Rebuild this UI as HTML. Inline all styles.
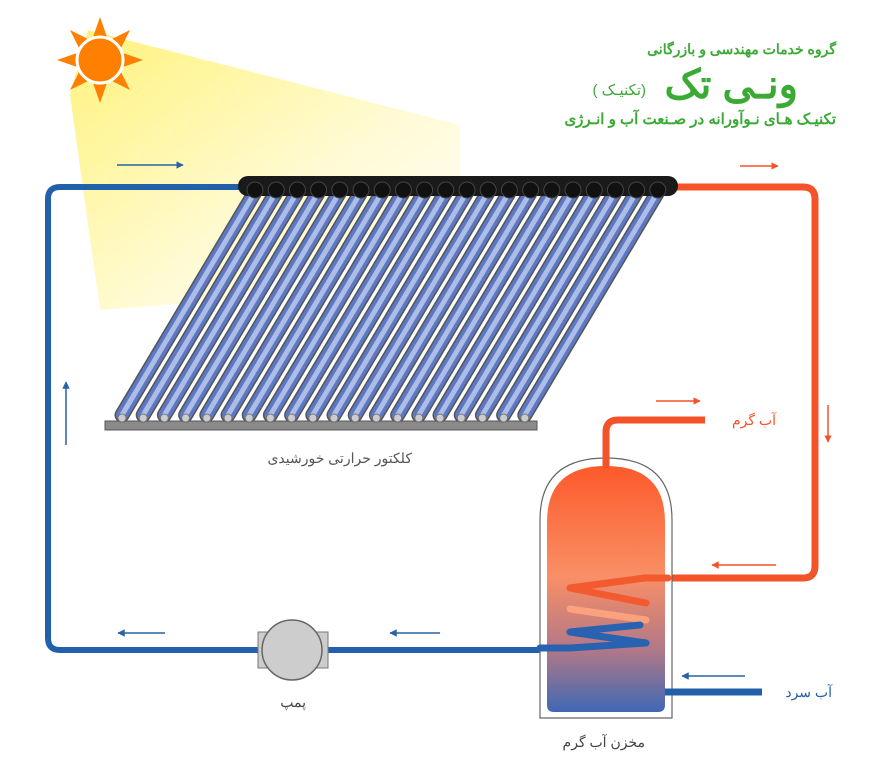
<!DOCTYPE html>
<html><head><meta charset="utf-8"><style>
html,body{margin:0;padding:0;background:#fff;}
svg{display:block}
text{font-family:"Liberation Sans","Noto Sans CJK SC",sans-serif;}
</style></head><body>
<svg width="886" height="762" viewBox="0 0 886 762" xmlns="http://www.w3.org/2000/svg">
<defs>
<linearGradient id="beam" x1="0" y1="0" x2="1" y2="1">
<stop offset="0" stop-color="#fff27a"/><stop offset="0.6" stop-color="#fffbd8"/><stop offset="1" stop-color="#ffffff"/>
</linearGradient>
<linearGradient id="tank" x1="0" y1="0" x2="0" y2="1">
<stop offset="0" stop-color="#fd5a2a"/><stop offset="0.45" stop-color="#f98f66"/><stop offset="0.75" stop-color="#b07888"/><stop offset="1" stop-color="#3f68b4"/>
</linearGradient>
<marker id="ab" viewBox="0 0 10 10" refX="9" refY="5" markerWidth="5" markerHeight="5" orient="auto"><path d="M0,0L10,5L0,10z" fill="#2763a6"/></marker>
<marker id="ar" viewBox="0 0 10 10" refX="9" refY="5" markerWidth="5" markerHeight="5" orient="auto"><path d="M0,0L10,5L0,10z" fill="#f4532a"/></marker>
<g id="t">
<line x1="0" y1="192" x2="-133" y2="415" stroke="#555" stroke-width="15" stroke-linecap="round"/>
<line x1="0" y1="192" x2="-133" y2="415" stroke="#5c78c4" stroke-width="12" stroke-linecap="round"/>
<line x1="0" y1="192" x2="-133" y2="415" stroke="#aebde6" stroke-width="5" stroke-linecap="round"/>
<circle cx="-133" cy="418" r="4" fill="#ccc" stroke="#777"/>
</g>
<circle id="h" cx="0" cy="190" r="8" fill="#111" stroke="#444"/>
</defs>
<polygon points="88,30 460,125 460,190 230,300 100,310 70,95" fill="url(#beam)"/>
<!-- sun -->
<g transform="translate(100,60)" fill="#ff7f00">
<polygon points="0,-43 8,-20 -8,-20"/><polygon points="0,43 8,20 -8,20"/>
<polygon points="-43,0 -20,8 -20,-8"/><polygon points="43,0 20,8 20,-8"/>
<polygon points="30,-30 10,-20 20,-10"/><polygon points="-30,-30 -10,-20 -20,-10"/>
<polygon points="30,30 10,20 20,10"/><polygon points="-30,30 -10,20 -20,10"/>
<circle r="23" fill="#ff7f00" stroke="#fff" stroke-width="3"/>
</g>
<!-- pipes -->
<path d="M240,187 H60 Q48,187 48,199 V638 Q48,650 60,650 H545" fill="none" stroke="#2260aa" stroke-width="6"/>
<path d="M672,187 H803 Q815,187 815,199 V566 Q815,578 803,578 H668" fill="none" stroke="#f4532a" stroke-width="7"/>
<!-- tank -->
<path d="M540,718 V520 Q540,458 606,458 Q672,458 672,520 V718 Z" fill="#fff" stroke="#666" stroke-width="1.2"/>
<path d="M547,705 V522 Q547,466 606,466 Q665,466 665,522 V705 Q665,712 658,712 H554 Q547,712 547,705Z" fill="url(#tank)"/>
<path d="M606,468 V432 Q606,420 618,420 H705" fill="none" stroke="#f4532a" stroke-width="7"/>
<path d="M665,692 H762" stroke="#2260aa" stroke-width="7"/>
<!-- coil -->
<path d="M668,578 H645 L570,588 L646,603" fill="none" stroke="#f35a2f" stroke-width="7" stroke-linecap="round" stroke-linejoin="round"/>
<path d="M570,609 L646,620" stroke="#fba17e" stroke-width="7" stroke-linecap="round"/>
<path d="M640,625 L570,632 L646,643 L570,648 H540" fill="none" stroke="#2a62b2" stroke-width="7" stroke-linecap="round" stroke-linejoin="round"/>
<!-- pump -->
<rect x="258" y="632" width="70" height="36" fill="#ccc" stroke="#777"/>
<circle cx="292" cy="650" r="30" fill="#cdcdcd" stroke="#666" stroke-width="1.5"/>
<!-- collector -->
<rect x="105" y="421" width="432" height="9" fill="#8a8a8a" stroke="#555"/>
<use href="#t" x="255"/><use href="#t" x="276.2"/><use href="#t" x="297.4"/><use href="#t" x="318.6"/><use href="#t" x="339.8"/>
<use href="#t" x="361"/><use href="#t" x="382.2"/><use href="#t" x="403.4"/><use href="#t" x="424.6"/><use href="#t" x="445.8"/>
<use href="#t" x="467"/><use href="#t" x="488.2"/><use href="#t" x="509.4"/><use href="#t" x="530.6"/><use href="#t" x="551.8"/>
<use href="#t" x="573"/><use href="#t" x="594.2"/><use href="#t" x="615.4"/><use href="#t" x="636.6"/><use href="#t" x="657.8"/>
<rect x="238" y="176" width="440" height="20" rx="10" fill="#1a1a1a"/>
<use href="#h" x="255"/><use href="#h" x="276.2"/><use href="#h" x="297.4"/><use href="#h" x="318.6"/><use href="#h" x="339.8"/>
<use href="#h" x="361"/><use href="#h" x="382.2"/><use href="#h" x="403.4"/><use href="#h" x="424.6"/><use href="#h" x="445.8"/>
<use href="#h" x="467"/><use href="#h" x="488.2"/><use href="#h" x="509.4"/><use href="#h" x="530.6"/><use href="#h" x="551.8"/>
<use href="#h" x="573"/><use href="#h" x="594.2"/><use href="#h" x="615.4"/><use href="#h" x="636.6"/><use href="#h" x="657.8"/>
<!-- arrows -->
<g stroke-width="1.5">
<line x1="117" y1="165" x2="183" y2="165" stroke="#2763a6" marker-end="url(#ab)"/>
<line x1="740" y1="166" x2="778" y2="166" stroke="#f4532a" marker-end="url(#ar)"/>
<line x1="828" y1="405" x2="828" y2="442" stroke="#f4532a" marker-end="url(#ar)"/>
<line x1="656" y1="401" x2="700" y2="401" stroke="#f4532a" marker-end="url(#ar)"/>
<line x1="776" y1="565" x2="712" y2="565" stroke="#f4532a" marker-end="url(#ar)"/>
<line x1="66" y1="445" x2="66" y2="382" stroke="#2763a6" marker-end="url(#ab)"/>
<line x1="165" y1="633" x2="118" y2="633" stroke="#2763a6" marker-end="url(#ab)"/>
<line x1="440" y1="633" x2="390" y2="633" stroke="#2763a6" marker-end="url(#ab)"/>
<line x1="745" y1="676" x2="682" y2="676" stroke="#2763a6" marker-end="url(#ab)"/>
</g>
<!-- labels -->
<g direction="rtl">
<text x="412" y="463" font-size="14" fill="#555" text-anchor="start">کلکتور حرارتی خورشیدی</text>
<text x="776" y="425" font-size="14" fill="#f4532a" text-anchor="start">آب گرم</text>
<text x="832" y="697" font-size="14" fill="#2260aa" text-anchor="start">آب سرد</text>
<text x="306" y="707" font-size="14" fill="#444" text-anchor="start">پمپ</text>
<text x="645" y="747" font-size="14" fill="#444" text-anchor="start">مخزن آب گرم</text>
<text x="836" y="54" font-size="14" font-weight="bold" fill="#3aaa35" text-anchor="start">گروه خدمات مهندسی و بازرگانی</text>
<text x="798" y="98" font-size="40" font-weight="bold" fill="#3aaa35" text-anchor="start">ونـی تک</text>
<text x="646" y="95" font-size="15" fill="#3aaa35" text-anchor="start">(تکنیـک )</text>
<text x="836" y="124" font-size="15" font-weight="bold" fill="#3aaa35" text-anchor="start">تکنیـک هـای نـوآورانه در صـنعت آب و انـرژی</text>
</g>
</svg>
</body></html>
